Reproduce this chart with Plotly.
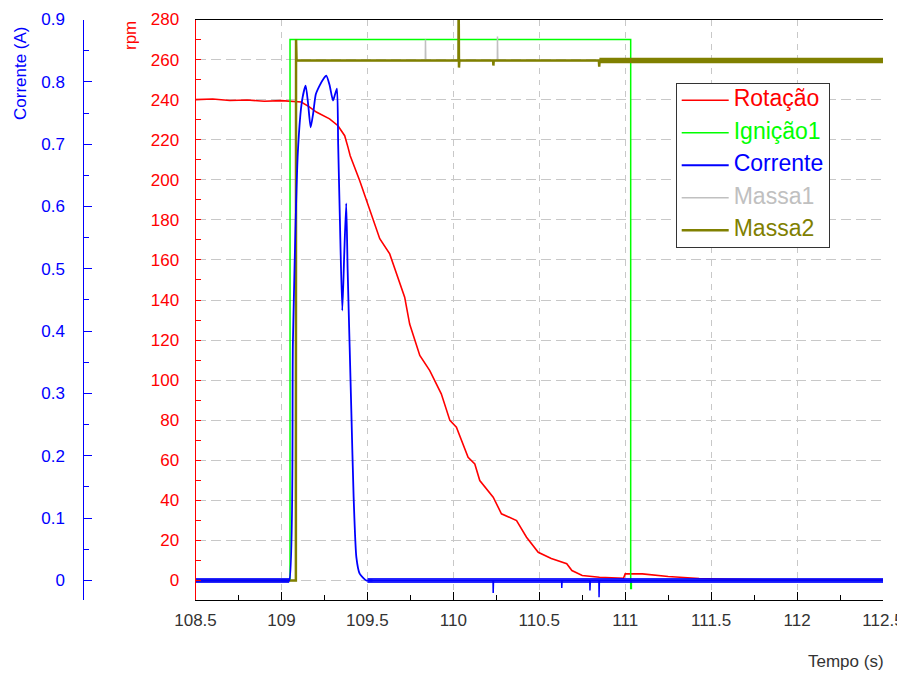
import plotly.graph_objects as go

# ---------------- data ----------------
# Rotação (rpm)
t_rot = [108.50, 108.60, 108.70, 108.80, 108.90, 109.00, 109.115, 109.16, 109.203, 109.28,
         109.329, 109.368, 109.387, 109.40, 109.455, 109.513, 109.572, 109.63, 109.659, 109.717,
         109.746, 109.805, 109.863, 109.93, 109.98, 110.018, 110.086, 110.125, 110.154, 110.232,
         110.28, 110.368, 110.426, 110.494, 110.57, 110.66, 110.69, 110.75, 110.85, 110.99,
         111.00, 111.10, 111.25, 111.43, 111.60, 111.90, 112.50]
rot = [240.0, 240.3, 239.6, 239.8, 239.2, 239.5, 238.8, 236.5, 233.8, 230.4,
       227.0, 222.0, 216.3, 212.0, 199.6, 184.7, 170.6, 163.0, 155.6, 141.4,
       128.0, 112.3, 104.8, 93.2, 79.9, 76.5, 61.5, 58.2, 49.9, 41.6,
       33.3, 29.9, 21.6, 14.1, 11.0, 8.4, 5.0, 2.5, 1.6, 1.1,
       3.3, 3.3, 2.0, 1.0, 0.6, 0.3, 0.3]

# Ignição1 (digital, drawn on rpm scale)
t_ign = [108.50, 109.05, 111.032, 111.036, 112.50]
ign = [0, 270, -4, 0, 0]

# Corrente (A) - pulse
t_cor = [109.00, 109.03, 109.045, 109.067, 109.096, 109.12, 109.141, 109.155, 109.17, 109.185,
         109.20, 109.222, 109.245, 109.261, 109.28, 109.30, 109.312, 109.323, 109.33, 109.34,
         109.354, 109.365, 109.377, 109.385, 109.397, 109.407, 109.42, 109.436, 109.455, 109.494,
         109.51, 109.53]
cor = [0.0, 0.0, 0.0, 0.385, 0.69, 0.77, 0.794, 0.765, 0.727, 0.75,
       0.78, 0.794, 0.805, 0.81, 0.795, 0.77, 0.78, 0.789, 0.70, 0.58,
       0.433, 0.52, 0.605, 0.50, 0.374, 0.268, 0.134, 0.037, 0.011, 0.0,
       0.0, 0.0]
# Corrente (A) - baseline with short negative spikes
t_cor_base = [108.50, 109.03, None, 109.51, 110.231, 110.232, 110.234, 110.630, 110.631, 110.633,
              110.794, 110.795, 110.797, 110.847, 110.848, 110.850, 112.50]
cor_base = [0.0, 0.0, None, 0.0, 0.0, -0.02, 0.0, 0.0, -0.012, 0.0,
            0.0, -0.016, 0.0, 0.0, -0.027, 0.0, 0.0]
# noisy baseline segments of Corrente
t_cor_ruido = [108.50, 109.045, None, 109.50, 112.50]
cor_ruido = [0.0, 0.0, None, 0.0, 0.0]

# Massa1 (rpm scale)
t_m1 = [108.50, 109.084, 109.085, 109.837, 109.838, 109.840, 110.256, 110.257, 110.259, 112.50]
m1 = [0, 0, 259.5, 259.5, 270, 259.5, 259.5, 271.5, 259.5, 259.5]

# Massa2 (rpm scale)
t_m2 = [108.50, 109.084, 109.085, 109.088, 110.030, 110.031, 110.033, 110.035,
        110.232, 110.233, 110.235, 110.847, 110.849, 110.851, 112.50]
m2 = [0, 0, 270, 259.5, 259.5, 295, 256, 259.5,
      259.5, 257, 259.5, 259.5, 256.5, 259.5, 259.5]
t_m2_ruido = [110.85, 112.50]
m2_ruido = [259.5, 259.5]

rpm_range = [-9.48, 280]
cor_range = [-0.0305, 0.9]
x_range = [108.5, 112.5]

# ---------------- layout helpers (page has an 8px body margin) ----------------
W, H, OFF = 897, 665, 8


def px(x):
    return (x - OFF) / W


def py(y):
    return 1 - (y - OFF) / H


FONT = "Liberation Sans, Arial, sans-serif"
RED = "#ff0000"
GREEN = "#00ff00"
BLUE = "#0000ff"
GRAY = "#c0c0c0"
OLIVE = "#808000"


def lname(txt, col):
    return f"<span style='color:{col};font-size:23px'>{txt}</span>"


fig = go.Figure()
fig.add_trace(go.Scatter(x=t_rot, y=rot, mode="lines", line=dict(color=RED, width=1.6),
                         name=lname("Rotação", RED)))
fig.add_trace(go.Scatter(x=t_ign, y=ign, mode="lines", line=dict(color=GREEN, width=1.5, shape="hv"),
                         name=lname("Ignição1", GREEN)))
fig.add_trace(go.Scatter(x=t_cor, y=cor, mode="lines", yaxis="y3",
                         line=dict(color=BLUE, width=1.8, shape="spline", smoothing=0.6),
                         legendgroup="cor", name=lname("Corrente", BLUE)))
fig.add_trace(go.Scatter(x=t_cor_base, y=cor_base, mode="lines", yaxis="y3",
                         line=dict(color=BLUE, width=1.5),
                         legendgroup="cor", showlegend=False, hoverinfo="skip"))
fig.add_trace(go.Scatter(x=t_cor_ruido, y=cor_ruido, mode="lines", yaxis="y3",
                         line=dict(color="rgba(0,0,255,0.85)", width=5),
                         legendgroup="cor", showlegend=False, hoverinfo="skip"))
fig.add_trace(go.Scatter(x=t_m1, y=m1, mode="lines", line=dict(color=GRAY, width=1.5),
                         name=lname("Massa1", GRAY)))
fig.add_trace(go.Scatter(x=t_m2, y=m2, mode="lines", line=dict(color=OLIVE, width=2.5),
                         legendgroup="m2", name=lname("Massa2", OLIVE)))
fig.add_trace(go.Scatter(x=t_m2_ruido, y=m2_ruido, mode="lines", line=dict(color=OLIVE, width=5.5),
                         legendgroup="m2", showlegend=False, hoverinfo="skip"))

xd = [px(195.5), px(883)]
yd = [py(599.5), py(19.5)]

fig.update_layout(
    width=W, height=H,
    margin=dict(l=0, r=0, t=0, b=0),
    paper_bgcolor="white", plot_bgcolor="white",
    font=dict(family=FONT, size=17, color="#333333"),
    showlegend=True,
    legend=dict(x=px(675.7), y=py(83), xanchor="left", yanchor="top",
                bgcolor="white", bordercolor="#333333", borderwidth=1,
                font=dict(family=FONT, size=15), itemwidth=47),
    xaxis=dict(domain=xd, range=x_range, dtick=0.5, tick0=108.5,
               showline=True, linecolor="#000000", linewidth=1, mirror=True,
               ticks="inside", ticklen=8, tickcolor="#000000",
               minor=dict(dtick=0.25, ticks="inside", ticklen=5, tickcolor="#000000", showgrid=False),
               showgrid=True, gridcolor="#c8c8c8", griddash="6px,6px", gridwidth=1,
               zeroline=False, automargin=False, ticklabelstandoff=5,
               tickfont=dict(size=17, color="#333333")),
    yaxis=dict(domain=yd, range=rpm_range, dtick=20, tick0=0,
               showline=True, linecolor=RED, linewidth=1,
               ticks="inside", ticklen=5, tickcolor=RED,
               minor=dict(dtick=10, ticks="inside", ticklen=5, tickcolor=RED, showgrid=False),
               showgrid=True, gridcolor="#c8c8c8", griddash="10px,5px", gridwidth=1,
               zeroline=False, automargin=False, ticklabelstandoff=12,
               tickfont=dict(size=17, color=RED)),
    yaxis2=dict(overlaying="y", side="right", anchor="x", range=rpm_range,
                showline=True, linecolor="#000000", linewidth=1,
                tickvals=[270], ticks="inside", ticklen=10, tickcolor="#000000",
                showticklabels=False, showgrid=False, zeroline=False, automargin=False),
    yaxis3=dict(overlaying="y", side="left", anchor="free", position=px(83.3), range=cor_range,
                dtick=0.1, tick0=0,
                showline=True, linecolor=BLUE, linewidth=1,
                ticks="inside", ticklen=8, tickcolor=BLUE,
                minor=dict(dtick=0.05, ticks="inside", ticklen=5, tickcolor=BLUE, showgrid=False),
                showgrid=False, zeroline=False, automargin=False, ticklabelstandoff=15,
                tickfont=dict(size=17, color=BLUE)),
    annotations=[
        dict(text="Corrente (A)", x=px(20), y=py(73), xref="paper", yref="paper",
             xanchor="center", yanchor="middle",
             textangle=-90, showarrow=False, font=dict(size=17, color=BLUE, family=FONT)),
        dict(text="rpm", x=px(130), y=py(36), xref="paper", yref="paper",
             xanchor="center", yanchor="middle",
             textangle=-90, showarrow=False, font=dict(size=17, color=RED, family=FONT)),
        dict(text="Tempo (s)", x=px(846), y=py(661), xref="paper", yref="paper",
             xanchor="center", yanchor="middle",
             showarrow=False, font=dict(size=17, color="#333333", family=FONT)),
    ],
)

fig.write_html("out.html")
